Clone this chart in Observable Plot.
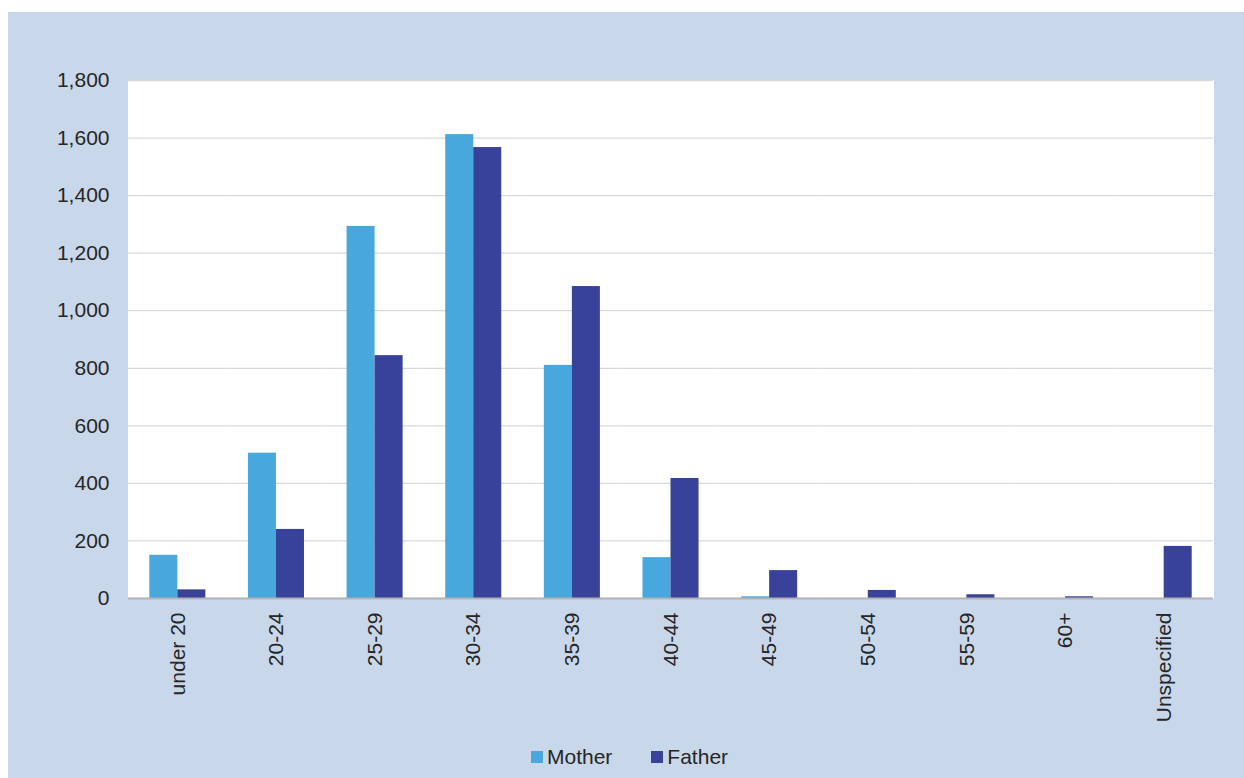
<!DOCTYPE html>
<html>
<head>
<meta charset="utf-8">
<script src="https://cdn.jsdelivr.net/npm/d3@7"></script>
<script src="https://cdn.jsdelivr.net/npm/@observablehq/plot@0.6"></script>
<style>
  body { margin: 0; background: #ffffff; font-family: "Liberation Sans", Arial, sans-serif; }
  #panel { position: absolute; left: 8px; top: 12px; width: 1236px; height: 766px; background: #c8d8ea; overflow: hidden; }
  #chart { position: absolute; left: 0; top: 0; }
  #legend { position: absolute; left: 523px; top: 733px; display: flex; align-items: center; font-size: 21px; color: #262626; white-space: nowrap; }
  .item { display: flex; align-items: center; }
  .sw { width: 12px; height: 12px; margin-right: 4px; }
</style>
</head>
<body>
<div id="panel">
  <div id="chart"></div>
  <div id="legend"></div>
</div>
<script>
const ages = ["under 20", "20-24", "25-29", "30-34", "35-39", "40-44", "45-49", "50-54", "55-59", "60+", "Unspecified"];
const mother = [150, 505, 1293, 1612, 810, 142, 6, 0, 0, 0, 0];
const father = [30, 240, 844, 1567, 1084, 417, 97, 28, 13, 6, 181];
const series = ["Mother", "Father"];
const colors = ["#48a8dd", "#38429b"];
const yTicks = [0, 200, 400, 600, 800, 1000, 1200, 1400, 1600, 1800];

const data = ages.flatMap((a, i) => [
  {age: a, sex: series[0], value: mother[i]},
  {age: a, sex: series[1], value: father[i]}
]);

const chart = Plot.plot({
  width: 1236,
  height: 720,
  marginLeft: 120,
  marginRight: 31,
  marginTop: 68,
  marginBottom: 134,
  style: {background: "transparent", fontFamily: "'Liberation Sans', Arial, sans-serif", fontSize: "21px", color: "#262626"},
  fx: {domain: ages, paddingInner: 0, paddingOuter: 0, round: false, label: null},
  x: {domain: series, paddingInner: 0, paddingOuter: 0.76, round: false, axis: null},
  y: {domain: [0, 1800], label: null},
  color: {domain: series, range: colors},
  marks: [
    Plot.frame({fill: "#ffffff", stroke: "#ffffff", strokeWidth: 1}),
    Plot.gridY(yTicks, {stroke: "#d9d9d9", strokeOpacity: 1, strokeWidth: 1.3}),
    Plot.barY(data, {fx: "age", x: "sex", y: "value", fill: "sex"}),
    Plot.ruleY([0], {stroke: "#b3b3b3", strokeWidth: 2}),
    Plot.axisY(yTicks, {tickSize: 0, tickPadding: 19, fontSize: 21, fill: "#262626", tickFormat: d3.format(","), label: null}),
    Plot.axisFx({anchor: "bottom", tickRotate: -90, tickSize: 0, tickPadding: 14, fontSize: 21, fill: "#262626", label: null})
  ]
});
document.getElementById("chart").appendChild(chart);

const legend = document.getElementById("legend");
series.forEach((s, i) => {
  const item = document.createElement("div");
  item.className = "item";
  if (i > 0) item.style.marginLeft = "39px";
  const sw = document.createElement("span");
  sw.className = "sw";
  sw.style.background = colors[i];
  const t = document.createElement("span");
  t.textContent = s;
  item.appendChild(sw);
  item.appendChild(t);
  legend.appendChild(item);
});
</script>
</body>
</html>
